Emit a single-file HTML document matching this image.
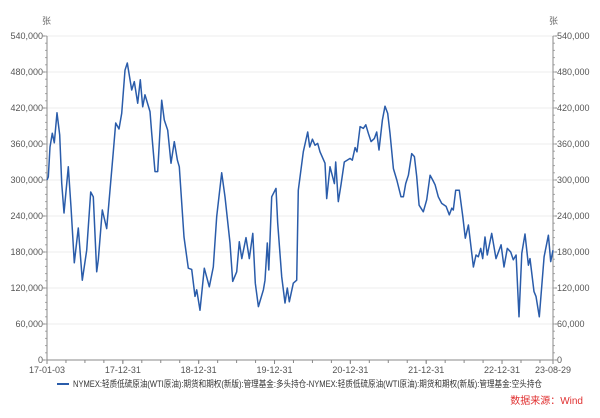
<!DOCTYPE html>
<html><head><meta charset="utf-8"><style>
body{margin:0;background:#fff;}
svg text{font-family:"Liberation Sans","Noto Sans CJK SC",sans-serif;}
</style></head><body>
<svg id="chart" width="600" height="413" viewBox="0 0 600 413" xmlns="http://www.w3.org/2000/svg">
<g id="grid"></g>
<g id="axes"></g>
<path id="line" fill="none" stroke="#2a5caa" stroke-width="1.5" stroke-linejoin="round"/>
<text x="42" y="24" font-size="9" fill="#666">张</text>
<text x="549" y="24" font-size="9" fill="#666">张</text>
<g>
<line x1="57" y1="384" x2="69" y2="384" stroke="#2a5caa" stroke-width="2"/>
<text x="73" y="387" font-size="9" fill="#333" textLength="469" lengthAdjust="spacingAndGlyphs">NYMEX:轻质低硫原油(WTI原油):期货和期权(新版):管理基金:多头持仓-NYMEX:轻质低硫原油(WTI原油):期货和期权(新版):管理基金:空头持仓</text>
</g>
<text x="583" y="404" font-size="10" fill="#e03030" text-anchor="end">数据来源：Wind</text>
</svg>
<script>
const times=[2017.0,2017.017,2017.040,2017.070,2017.096,2017.132,2017.167,2017.194,2017.224,2017.281,2017.316,2017.360,2017.413,2017.466,2017.524,2017.576,2017.611,2017.655,2017.676,2017.729,2017.787,2017.831,2017.874,2017.906,2017.949,2017.985,2018.029,2018.059,2018.117,2018.151,2018.196,2018.230,2018.262,2018.292,2018.358,2018.381,2018.424,2018.460,2018.513,2018.547,2018.592,2018.635,2018.679,2018.719,2018.745,2018.807,2018.863,2018.908,2018.952,2018.974,2019.018,2019.074,2019.140,2019.193,2019.238,2019.304,2019.347,2019.413,2019.449,2019.502,2019.536,2019.568,2019.624,2019.668,2019.713,2019.747,2019.787,2019.853,2019.875,2019.905,2019.924,2019.963,2020.020,2020.042,2020.095,2020.138,2020.169,2020.195,2020.248,2020.293,2020.314,2020.380,2020.438,2020.464,2020.499,2020.534,2020.570,2020.600,2020.666,2020.688,2020.732,2020.789,2020.807,2020.841,2020.877,2020.920,2020.996,2021.026,2021.062,2021.088,2021.128,2021.171,2021.203,2021.237,2021.273,2021.316,2021.348,2021.378,2021.422,2021.457,2021.493,2021.523,2021.567,2021.612,2021.668,2021.699,2021.730,2021.765,2021.809,2021.844,2021.875,2021.906,2021.962,2022.007,2022.051,2022.086,2022.117,2022.160,2022.205,2022.262,2022.305,2022.337,2022.358,2022.389,2022.437,2022.482,2022.516,2022.556,2022.622,2022.657,2022.687,2022.719,2022.745,2022.776,2022.806,2022.864,2022.921,2022.987,2023.026,2023.070,2023.114,2023.149,2023.185,2023.224,2023.260,2023.303,2023.347,2023.369,2023.422,2023.448,2023.492,2023.554,2023.611,2023.642,2023.672];
const values=[300,305,355,378,362,412,375,295,245,322,255,162,220,133,183,280,272,147,167,250,219,283,347,395,385,411,483,495,450,464,428,467,422,442,414,378,314,314,433,400,383,328,364,333,322,205,153,151,106,117,83,153,122,155,239,312,272,195,131,147,197,169,204,169,211,128,89,117,133,195,150,272,286,228,139,95,120,97,128,133,283,347,380,355,368,358,361,347,328,269,322,294,330,264,292,330,336,333,354,347,389,386,392,378,364,369,380,350,400,423,411,378,319,300,272,272,294,308,344,339,306,258,247,267,308,300,292,272,261,256,242,253,250,283,283,239,203,225,155,175,172,186,169,205,175,211,169,192,155,186,180,167,175,72,178,210,158,169,114,106,72,172,208,164,183];
const yTicks=[0,60000,120000,180000,240000,300000,360000,420000,480000,540000];
const xTickTimes=[2017.0,2018.0,2019.0,2020.0,2021.0,2022.0,2023.0,2023.672];
const xTickLabels=["17-01-03","17-12-31","18-12-31","19-12-31","20-12-31","21-12-31","22-12-31","23-08-29"];
const L=47,R=553,T=36,B=360,T0=2017.0,T1=2023.672;
const x=t=>L+(t-T0)/(T1-T0)*(R-L);
const y=v=>B-v/540000*(B-T);
const NS="http://www.w3.org/2000/svg";
const grid=document.getElementById('grid'),axes=document.getElementById('axes');
function mk(tag,attrs,parent){const e=document.createElementNS(NS,tag);for(const k in attrs)e.setAttribute(k,attrs[k]);parent.appendChild(e);return e;}
yTicks.forEach(v=>{
  if(v>0){const g=mk('line',{x1:L,x2:R,y1:y(v),y2:y(v),stroke:'#ececec','stroke-width':1},grid);
  
  }
  const lab=v.toLocaleString('en-US');
  const t1=mk('text',{x:L-4,y:y(v)+3,'font-size':9,fill:'#555','text-anchor':'end'},axes);t1.textContent=lab;
  
  
  const t2=mk('text',{x:R+4,y:y(v)+3,'font-size':9,fill:'#555'},axes);t2.textContent=lab;
  
  
  mk('line',{x1:L-4,x2:L,y1:y(v),y2:y(v),stroke:'#888'},axes);
  mk('line',{x1:R,x2:R+4,y1:y(v),y2:y(v),stroke:'#888'},axes);
});
for(let v=0;v<=540000;v+=12000){mk('line',{x1:L-2,x2:L,y1:y(v),y2:y(v),stroke:'#aaa'},axes);mk('line',{x1:R,x2:R+2,y1:y(v),y2:y(v),stroke:'#aaa'},axes);}
mk('line',{x1:L,x2:L,y1:T,y2:B,stroke:'#888'},axes);
mk('line',{x1:R,x2:R,y1:T,y2:B,stroke:'#888'},axes);
mk('line',{x1:L,x2:R,y1:B,y2:B,stroke:'#888'},axes);
for(let q=2017.25;q<T1;q+=0.25){mk('line',{x1:x(q),x2:x(q),y1:B,y2:B+3,stroke:'#888'},axes);}
xTickTimes.forEach((t,i)=>{
  mk('line',{x1:x(t),x2:x(t),y1:B,y2:B+4,stroke:'#888'},axes);
  const tx=mk('text',{x:x(t),y:B+13,'font-size':9,fill:'#555','text-anchor':'middle'},axes);
  tx.textContent=xTickLabels[i];
  
  
});
let d='';times.forEach((t,i)=>{d+=(i?'L':'M')+x(t).toFixed(1)+','+y(values[i]*1000).toFixed(1);});
document.getElementById('line').setAttribute('d',d);
</script>
</body></html>
